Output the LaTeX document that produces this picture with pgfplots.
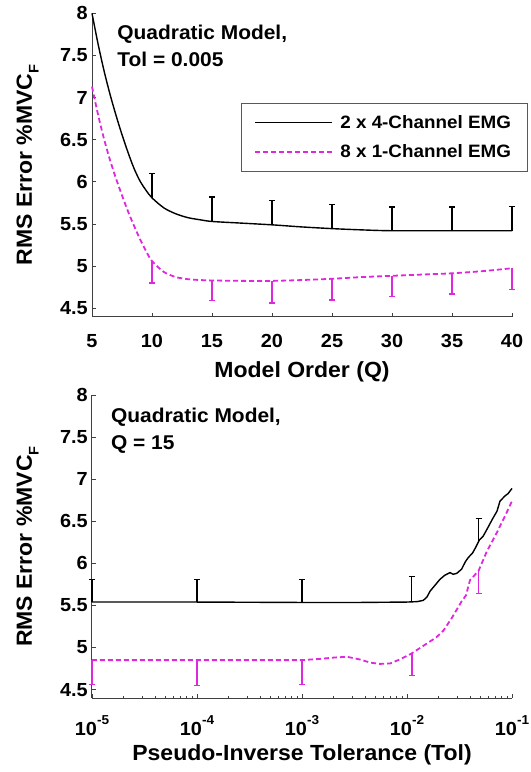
\documentclass[border=0pt]{standalone}
\usepackage{fontspec}
\setmainfont{Liberation Sans}[FakeStretch=1.05]
\usepackage{pgfplots}
\pgfplotsset{compat=1.18}
\definecolor{mag}{RGB}{222,40,222}
\newcommand\tickfont{\bfseries\fontsize{19}{19}\selectfont}
\newcommand\labfont{\bfseries\fontsize{22}{22}\selectfont}
\newcommand\titfont{\bfseries\fontsize{20}{27}\selectfont}
\newcommand\legfont{\bfseries\fontsize{18}{18}\selectfont}
\newcommand\supx[1]{10\raisebox{0.55em}{\fontsize{13}{13}\selectfont\bfseries #1}}
\pgfplotsset{myaxis/.style={
  scale only axis, width=420bp,
  axis x line*=bottom, axis y line*=left,
  axis line style={line width=1bp, black!75},
  tick align=inside, major tick length=4bp, minor tick length=2.5bp,
  tick style={line width=0.8bp, black!75},
  ymin=4.4, ymax=8,
  ytick={4.5,5,5.5,6,6.5,7,7.5,8},
  yticklabels={4.5,5,5.5,6,6.5,7,7.5,8},
  ticklabel style={font=\tickfont},
  yticklabel style={inner sep=4bp},
  xticklabel style={anchor=base},
  ylabel={RMS Error \%MVC\raisebox{-0.3em}{\fontsize{14}{14}\selectfont\bfseries F}},
  ylabel style={font=\labfont, at={(axis description cs:-0.143,0.5)}, anchor=base},
  xlabel style={font=\labfont, anchor=base},
  clip=false,
}}
\begin{document}
\begin{tikzpicture}
\path[use as bounding box] (0,0) rectangle (531bp,772bp);
% ---------------- top ----------------
\begin{axis}[myaxis, at={(92bp,455.3bp)}, anchor=south west, height=303.4bp,
  xmin=5, xmax=40, xtick={5,10,15,20,25,30,35,40},
  xticklabels={5,10,15,20,25,30,35,40},
  xticklabel style={yshift=-31bp},
  xlabel={Model Order (Q)},
  xlabel style={at={(axis description cs:0.5,-0.202)}},
  legend style={at={(1.036,0.704)}, anchor=north east, draw=black!65,
    font=\legfont, nodes={font=\legfont, inner sep=3bp},
    inner xsep=13bp, inner ysep=9bp, row sep=9bp},
  legend cell align=left,
  legend image code/.code={\draw[#1] (0bp,0bp) -- (77bp,0bp);},
]
\addplot[black, line width=1.4bp, smooth] coordinates {
(5,8.00)(5.5,7.64)(6,7.32)(6.5,7.04)(7,6.79)(7.5,6.56)(8,6.35)(8.5,6.16)(9,6.01)(9.5,5.90)
(10,5.81)(11,5.69)(12,5.62)(13,5.575)(14,5.55)(15,5.53)(17.5,5.51)(20,5.49)(22.5,5.465)
(25,5.445)(27.5,5.43)(30,5.42)(35,5.42)(40,5.42)};
\addlegendentry{\hspace{4bp}2 x 4-Channel EMG\hspace{12bp}}
\addplot[mag, line width=1.8bp, dash pattern=on 5bp off 3bp, smooth] coordinates {
(5,7.13)(5.5,6.80)(6,6.51)(6.5,6.26)(7,6.04)(7.5,5.84)(8,5.65)(8.5,5.48)(9,5.32)(9.5,5.18)
(10,5.06)(11,4.93)(12,4.87)(13,4.845)(14,4.835)(15,4.83)(17.5,4.825)(20,4.825)(22.5,4.835)
(25,4.85)(27.5,4.87)(30,4.885)(32.5,4.90)(35,4.915)(37.5,4.94)(40,4.975)};
\addlegendentry{\hspace{4bp}8 x 1-Channel EMG\hspace{12bp}}
\addplot[draw=none, mark=none, forget plot,
  error bars/.cd, y dir=plus, y explicit,
  error bar style={draw=black, line width=1.3bp},
  error mark options={draw=black, line width=1.3bp, mark size=3bp, rotate=90}] coordinates {
(10,5.81) +- (0,0.29) (15,5.53) +- (0,0.29) (20,5.49) +- (0,0.29) (25,5.445) +- (0,0.285)
(30,5.42) +- (0,0.28) (35,5.42) +- (0,0.28) (40,5.42) +- (0,0.29)};
\addplot[draw=none, mark=none, forget plot,
  error bars/.cd, y dir=minus, y explicit,
  error bar style={draw=mag, line width=1.8bp},
  error mark options={draw=mag, line width=1.5bp, mark size=3bp, rotate=90}] coordinates {
(10,5.06) +- (0,0.26) (15,4.83) +- (0,0.24) (20,4.825) +- (0,0.265) (25,4.85) +- (0,0.25)
(30,4.885) +- (0,0.245) (35,4.915) +- (0,0.245) (40,4.975) +- (0,0.255)};
\node[anchor=north west, align=left, inner sep=0pt, font=\titfont] at (rel axis cs:0.06,0.961) {Quadratic Model,\\Tol = 0.005};
\end{axis}
% ---------------- bottom ----------------
\begin{axis}[myaxis, at={(92bp,74bp)}, anchor=south west, height=303bp,
  xmode=log, xmin=1e-5, xmax=1e-1,
  xtick={1e-5,1e-4,1e-3,1e-2,1e-1},
  xticklabels={\supx{-5},\supx{-4},\supx{-3},\supx{-2},\supx{-1}},
  minor xtick={2e-5,3e-5,4e-5,5e-5,6e-5,7e-5,8e-5,9e-5,2e-4,3e-4,4e-4,5e-4,6e-4,7e-4,8e-4,9e-4,
    2e-3,3e-3,4e-3,5e-3,6e-3,7e-3,8e-3,9e-3,2e-2,3e-2,4e-2,5e-2,6e-2,7e-2,8e-2,9e-2},
  xticklabel style={yshift=-37bp},
  xlabel={Pseudo-Inverse Tolerance (Tol)},
  xlabel style={at={(axis description cs:0.5,-0.205)}},
]
\addplot[black, line width=1.4bp] coordinates {
(1e-5,5.54)(1e-4,5.54)(1e-3,5.535)(0.0035,5.535)(0.01,5.54)(0.0125,5.545)(0.0143,5.56)
(0.0155,5.60)(0.0166,5.67)(0.0185,5.74)(0.0206,5.81)(0.023,5.86)(0.0257,5.89)(0.0275,5.87)
(0.0297,5.88)(0.0331,5.93)(0.036,6.02)(0.0384,6.07)(0.042,6.12)(0.0447,6.18)(0.049,6.28)
(0.053,6.32)(0.0575,6.40)(0.0661,6.54)(0.072,6.62)(0.0769,6.74)(0.0857,6.80)(0.092,6.83)(0.1,6.89)};
\addplot[mag, line width=1.8bp, dash pattern=on 5bp off 3bp] coordinates {
(1e-5,4.85)(1e-4,4.85)(1e-3,4.85)(0.0015,4.865)(0.002,4.88)(0.00267,4.89)(0.0035,4.86)
(0.0045,4.82)(0.0055,4.805)(0.0069,4.81)(0.0086,4.86)(0.0111,4.93)(0.0143,5.02)(0.019,5.12)
(0.0222,5.20)(0.0267,5.35)(0.0332,5.55)(0.0365,5.62)(0.0398,5.80)(0.048,5.91)(0.0575,6.14)
(0.0714,6.36)(0.0857,6.56)(0.1,6.74)};
\addplot[draw=none, mark=none,
  error bars/.cd, y dir=plus, y explicit,
  error bar style={draw=black, line width=1.3bp},
  error mark options={draw=black, line width=1.3bp, mark size=3bp, rotate=90}] coordinates {
(1e-5,5.54) +- (0,0.27) (1e-4,5.54) +- (0,0.27) (1e-3,5.535) +- (0,0.275)
(0.0111,5.545) +- (0,0.295) (0.048,6.26) +- (0,0.27)};
\addplot[draw=none, mark=none,
  error bars/.cd, y dir=minus, y explicit,
  error bar style={draw=mag, line width=1.8bp},
  error mark options={draw=mag, line width=1.5bp, mark size=3bp, rotate=90}] coordinates {
(1e-5,4.85) +- (0,0.29) (1e-4,4.85) +- (0,0.30) (1e-3,4.85) +- (0,0.29)
(0.0111,4.93) +- (0,0.26) (0.048,5.91) +- (0,0.27)};
\node[anchor=north west, align=left, inner sep=0pt, font=\titfont] at (rel axis cs:0.045,0.957) {Quadratic Model,\\Q = 15};
\end{axis}
\end{tikzpicture}
\end{document}
